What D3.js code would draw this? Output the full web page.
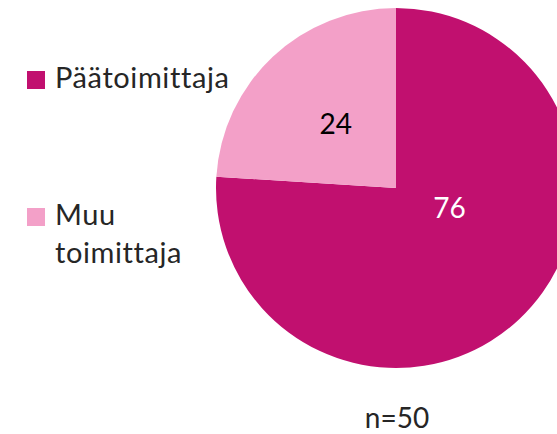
<!DOCTYPE html>
<html>
<head>
<meta charset="utf-8">
<script src="https://cdn.jsdelivr.net/npm/d3@7"></script>
<style>
  body { margin: 0; background: #fff; }
  svg { display: block; }
</style>
</head>
<body>
<div id="chart"></div>
<script>
// Data
const categories = ["Päätoimittaja", "Muu toimittaja"];
const values = [76, 24];
const colors = ["#C1106F", "#F3A0C8"];
const sampleLabel = "n=50";

const width = 557, height = 434;
const font = "Lato, 'Open Sans', sans-serif";

const svg = d3.select("#chart")
    .append("svg")
    .attr("width", width)
    .attr("height", height);

// Pie
const cx = 396, cy = 188, radius = 180;

const pie = d3.pie().sort(null).value(d => d)(values);
const arc = d3.arc().innerRadius(0).outerRadius(radius);

const g = svg.append("g")
    .attr("transform", `translate(${cx},${cy})`);

g.selectAll("path")
    .data(pie)
    .enter()
    .append("path")
    .attr("d", arc)
    .attr("fill", (d, i) => colors[i]);

// Value labels (Excel-ish placement)
g.selectAll(".val")
    .data(pie)
    .enter()
    .append("text")
    .attr("class", "val")
    .attr("transform", (d, i) => {
        let a, r;
        if (i === 0) { a = (d.startAngle + d.endAngle) / 2 - 0.47; r = 57; }
        else { a = (d.startAngle + d.endAngle) / 2; r = 88; }
        return `translate(${Math.sin(a) * r},${-Math.cos(a) * r})`;
    })
    .attr("text-anchor", "middle")
    .attr("dy", "0.38em")
    .style("font-family", font)
    .style("font-size", "28px")
    .style("fill", (d, i) => i === 0 ? "#ffffff" : "#000000")
    .text(d => d.data);

// Legend
const legend = svg.append("g");
const legendRows = [[categories[0]], ["Muu", "toimittaja"]];
const legendY = [71, 208];

legendRows.forEach((lines, i) => {
    legend.append("rect")
        .attr("x", 27)
        .attr("y", legendY[i])
        .attr("width", 18)
        .attr("height", 18)
        .attr("fill", colors[i]);
    const t = legend.append("text")
        .attr("x", 55)
        .attr("y", legendY[i] + 17)
        .style("font-family", font)
        .style("font-size", "29px")
        .style("letter-spacing", "0.6px")
        .style("fill", "#262626");
    lines.forEach((line, j) => {
        t.append("tspan")
            .attr("x", 55)
            .attr("dy", j === 0 ? 0 : 38)
            .text(line);
    });
});

// Sample size
svg.append("text")
    .attr("x", 397)
    .attr("y", 428)
    .attr("text-anchor", "middle")
    .style("font-family", font)
    .style("font-size", "28px")
    .style("fill", "#262626")
    .text(sampleLabel);
</script>
</body>
</html>
